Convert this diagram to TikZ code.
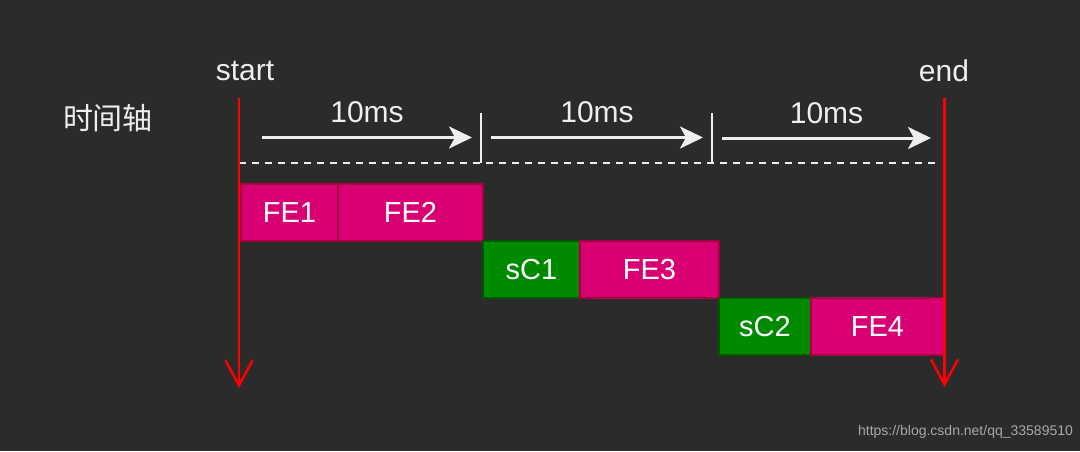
\documentclass[tikz,border=0pt]{standalone}
\usepackage{fontspec}
\setmainfont{Liberation Sans}
\newfontfamily\cjkfont{Noto Sans CJK SC}
\usetikzlibrary{positioning,arrows.meta}
\definecolor{bgdark}{HTML}{2B2B2B}
\definecolor{feFill}{HTML}{D80073}
\definecolor{feLine}{HTML}{A50040}
\definecolor{scFill}{HTML}{008A00}
\definecolor{scLine}{HTML}{005700}
\definecolor{lightline}{HTML}{EEEEEE}
\definecolor{markgray}{HTML}{A8A8A8}
\tikzset{
  febox/.style={draw=feLine, fill=feFill, line width=1.5pt, text=white, minimum height=57pt,
    inner sep=0pt, outer sep=0pt, font=\fontsize{29}{32}\selectfont},
  scbox/.style={febox, draw=scLine, fill=scFill},
  redaxis/.style={red, line width=2.5pt, -{Straight Barb[length=25pt,width=27pt]}},
  spanarrow/.style={lightline, line width=3pt, -{Stealth[length=23pt,width=22pt,inset=6pt]}},
  tickmark/.style={lightline, line width=2pt},
  dashline/.style={lightline, line width=2pt, dash pattern=on 7pt off 6pt},
  toplabel/.style={text=lightline, inner sep=0pt, font=\fontsize{30}{32}\selectfont},
}

\begin{document}
\begin{tikzpicture}[x=1pt, y=-1pt]
  \fill[bgdark] (0,0) rectangle (1080,451);
  \useasboundingbox (0,0) rectangle (1080,451);

  % time axis
  \node[toplabel] (axisname) at (108,118) {\cjkfont 时间轴};
  \node[toplabel] (startlbl) at (245,71) {start};
  \node[toplabel] (endlbl) at (944,71) {end};

  \coordinate (dashL) at (239,162.5);
  \coordinate (dashR) at (938,162.5);
  \draw[dashline] (dashL) -- (dashR);

  \foreach \tx [count=\i] in {480.5,711.5} {
    \coordinate (tick\i top) at (\tx,113);
    \coordinate (tick\i bot) at (\tx,162.5);
    \draw[tickmark] (tick\i top) -- (tick\i bot);
  }

  \foreach \xa/\xb/\yy [count=\i] in {262/472/137.5, 491/703/137.5, 722/931/138} {
    \coordinate (span\i a) at (\xa,\yy);
    \coordinate (span\i b) at (\xb,\yy);
    \draw[spanarrow] (span\i a) -- (span\i b)
      node[toplabel, midway, yshift=25pt] (span\i lbl) {10ms};
  }

  % frames
  \node[febox, minimum width=97pt, anchor=north west] (fe1) at (241,184) {FE1};
  \node[febox, minimum width=145pt, right=0pt of fe1] (fe2) {FE2};
  \node[scbox, minimum width=97pt, below right=0pt and 0pt of fe2] (sc1) {sC1};
  \node[febox, minimum width=139pt, right=0pt of sc1] (fe3) {FE3};
  \node[scbox, minimum width=92pt, below right=0pt and 0pt of fe3] (sc2) {sC2};
  \node[febox, minimum width=133pt, right=0pt of sc2] (fe4) {FE4};

  % start / end
  \coordinate (startTop) at (239,98);
  \coordinate (startBot) at (239,388);
  \coordinate (endTop) at (944.5,98);
  \coordinate (endBot) at (944.5,387);
  \draw[redaxis] (startTop) -- (startBot);
  \draw[redaxis] (endTop) -- (endBot);

  \node[text=markgray, font=\fontsize{14}{16}\selectfont] (mark) at (965.5,432)
    {https://blog.csdn.net/qq\_33589510};
\end{tikzpicture}
\end{document}
